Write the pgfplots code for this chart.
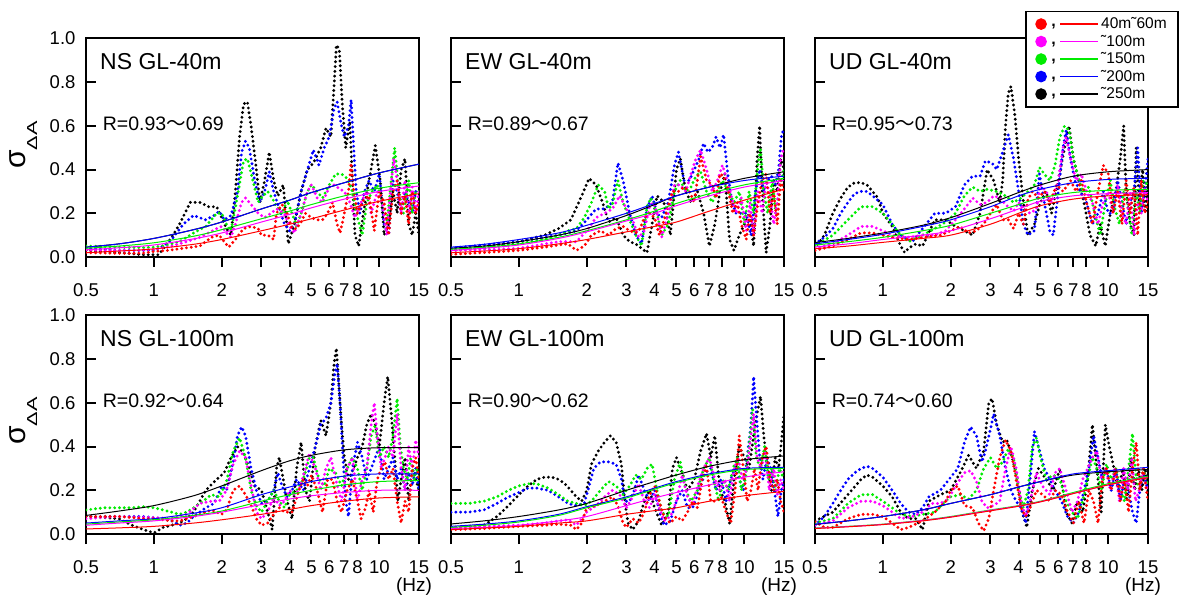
\documentclass[border=0pt]{standalone}
\usepackage{pgfplots}
\pgfplotsset{compat=1.18}
\usepackage{fontspec}
\setmainfont{Liberation Sans}
\newfontfamily\cjk{Noto Sans CJK JP}
\definecolor{cred}{RGB}{255,0,0}
\definecolor{cmag}{RGB}{255,0,255}
\definecolor{cgrn}{RGB}{0,235,0}
\definecolor{cblu}{RGB}{0,0,255}
\definecolor{cblk}{RGB}{0,0,0}
\pgfplotsset{
  dotsty/.style={line width=3.2pt, line cap=round, line join=round, dash pattern=on 0pt off 4.8pt, forget plot},
  fitsty/.style={line width=1pt, smooth, forget plot},
  every tick label/.append style={font=\fontsize{18.5}{18.5}\selectfont},
  every axis/.append style={
    xmode=log, xmin=0.5, xmax=15, ymin=0, ymax=1,
    scale only axis, width=333pt, height=218.5pt, anchor=south west,
    axis line style={line width=2pt},
    xtick={0.5,1,2,3,4,5,6,7,8,10,15},
    xticklabels={0.5,1,2,3,4,5,6,7,8,10,15},
    minor xtick={}, minor ytick={},
    ytick={0,0.2,0.4,0.6,0.8,1},
    xtick align=outside, ytick align=inside,
    xtick pos=left, ytick pos=left,
    major tick length=10pt,
    every tick/.append style={line width=2pt, black},
    xticklabel style={yshift=-13pt, font=\fontsize{18.5}{18.5}\selectfont},
    yticklabel style={xshift=-7pt, font=\fontsize{18.5}{18.5}\selectfont},
    clip=true,
  },
  ylab/.style={yticklabels={0.0,0.2,0.4,0.6,0.8,1.0}},
  noylab/.style={yticklabels={}},
  legimg/.style={legend image code/.code={
    \fill (0pt,0pt) circle (5pt);
    \node[text=black, inner sep=0pt, text height=2pt, text depth=2pt, anchor=base, font=\fontsize{16}{16}\selectfont\bfseries] at (12.5pt,-2.5pt) {,};
    \draw[line width=1.3pt] (19pt,0pt) -- (57pt,0pt);
  }},
}
\newcommand{\ttl}[1]{\node[anchor=base west, inner sep=0pt, font=\fontsize{23}{23}\selectfont] at (rel axis cs:0.042,0.858) {#1};}
\newcommand{\rr}[2]{\node[anchor=base west, inner sep=0pt, font=\fontsize{19.5}{19.5}\selectfont] at (rel axis cs:0.05,0.581) {R=#1{\cjk ～}#2};}
\begin{document}
\begin{tikzpicture}
\path[use as bounding box] (0pt,0pt) rectangle (1185pt,599pt);
% ---------------- NS GL-40m
\begin{axis}[ylab, at={(86pt,342pt)}]
\addplot[cblk,dotsty] coordinates {(0.5,.03)(0.6,.025)(0.7,.02)(0.8,.015)(0.9,.01)(1.05,.01)(1.2,.09)(1.3,.15)(1.45,.25)(1.6,.25)(1.75,.23)(1.9,.23)(2.0,.18)(2.1,.13)(2.2,.1)(2.3,.3)(2.4,.55)(2.5,.7)(2.6,.71)(2.7,.6)(2.85,.4)(2.95,.25)(3.1,.35)(3.25,.48)(3.4,.35)(3.55,.28)(3.75,.33)(3.95,.06)(4.2,.15)(4.5,.3)(4.8,.4)(5.1,.43)(5.5,.5)(5.8,.59)(6.1,.55)(6.3,.78)(6.45,.97)(6.65,.95)(6.85,.7)(7.1,.5)(7.4,.62)(7.6,.35)(7.8,.1)(8.1,.05)(8.5,.2)(9.0,.35)(9.6,.51)(10.1,.35)(10.5,.1)(11,.15)(11.5,.3)(12,.2)(12.5,.4)(13,.45)(13.5,.15)(14,.1)(14.5,.2)(15,.1)};
\addplot[cblu,dotsty] coordinates {(0.5,.04)(0.6,.035)(0.7,.03)(0.8,.03)(0.9,.03)(1.0,.03)(1.1,.05)(1.2,.08)(1.35,.15)(1.5,.19)(1.7,.17)(1.85,.19)(1.95,.21)(2.05,.17)(2.2,.19)(2.35,.3)(2.45,.48)(2.55,.53)(2.65,.5)(2.8,.35)(2.95,.25)(3.1,.3)(3.25,.39)(3.4,.3)(3.6,.22)(3.8,.15)(4.0,.12)(4.2,.15)(4.5,.3)(4.8,.4)(5.1,.49)(5.4,.42)(5.7,.5)(6.0,.55)(6.3,.68)(6.5,.71)(6.8,.6)(7.0,.55)(7.3,.6)(7.5,.72)(7.7,.5)(7.9,.3)(8.2,.2)(8.6,.3)(9.0,.35)(9.5,.3)(10,.38)(10.5,.15)(11,.1)(11.5,.35)(12,.3)(12.5,.2)(13,.3)(13.5,.25)(14,.2)(14.5,.3)(15,.3)};
\addplot[cgrn,dotsty] coordinates {(0.5,.05)(0.6,.048)(0.7,.045)(0.8,.043)(0.9,.043)(1.0,.045)(1.15,.055)(1.3,.07)(1.5,.11)(1.7,.14)(1.9,.2)(2.0,.2)(2.1,.15)(2.2,.12)(2.35,.28)(2.5,.44)(2.6,.45)(2.75,.35)(2.9,.25)(3.05,.28)(3.2,.3)(3.35,.27)(3.5,.23)(3.7,.2)(3.9,.26)(4.1,.2)(4.3,.14)(4.5,.2)(4.8,.3)(5.0,.33)(5.3,.3)(5.6,.27)(6.0,.33)(6.4,.38)(6.8,.38)(7.2,.36)(7.6,.3)(8.0,.18)(8.4,.1)(8.8,.25)(9.3,.3)(9.8,.33)(10.3,.25)(10.8,.15)(11.3,.35)(11.7,.5)(12.2,.3)(12.8,.2)(13.5,.35)(14,.2)(14.5,.3)(15,.3)};
\addplot[cmag,dotsty] coordinates {(0.5,.032)(0.6,.03)(0.7,.03)(0.8,.03)(0.9,.032)(1.0,.035)(1.15,.045)(1.3,.06)(1.6,.09)(1.9,.13)(2.0,.14)(2.1,.11)(2.2,.09)(2.3,.15)(2.45,.25)(2.55,.27)(2.7,.24)(2.9,.2)(3.1,.18)(3.3,.2)(3.5,.22)(3.8,.2)(4.0,.14)(4.2,.11)(4.5,.2)(4.8,.3)(5.0,.33)(5.3,.27)(5.6,.25)(6.0,.32)(6.3,.33)(6.7,.31)(7.0,.3)(7.4,.25)(7.8,.18)(8.3,.25)(8.8,.3)(9.2,.2)(9.8,.3)(10.3,.25)(10.8,.1)(11.2,.3)(11.6,.45)(12,.35)(12.5,.2)(13,.35)(13.5,.2)(14,.32)(14.5,.2)(15,.3)};
\addplot[cred,dotsty] coordinates {(0.5,.02)(0.6,.018)(0.7,.017)(0.8,.017)(0.9,.018)(1.0,.025)(1.15,.03)(1.35,.04)(1.6,.05)(1.8,.09)(1.95,.1)(2.05,.07)(2.15,.045)(2.3,.08)(2.5,.13)(2.7,.14)(2.9,.13)(3.0,.1)(3.2,.1)(3.4,.08)(3.5,.2)(3.7,.24)(3.9,.2)(4.1,.13)(4.3,.13)(4.5,.16)(4.7,.2)(5.0,.18)(5.3,.17)(5.6,.17)(5.9,.2)(6.2,.25)(6.5,.15)(6.7,.11)(7.0,.2)(7.3,.3)(7.5,.43)(7.7,.3)(8.0,.2)(8.5,.26)(9.0,.28)(9.5,.12)(10,.3)(10.5,.25)(11,.1)(11.5,.3)(12,.35)(12.5,.2)(13,.28)(13.5,.15)(14,.3)(14.5,.2)(15,.25)};
\addplot[cblk,fitsty] coordinates {(0.5,.045)(0.7,.06)(1,.085)(1.5,.125)(2,.16)(3,.22)(4,.26)(5,.295)(7,.34)(10,.385)(15,.425)};
\addplot[cblu,fitsty] coordinates {(0.5,.045)(0.7,.06)(1,.085)(1.5,.125)(2,.16)(3,.22)(4,.26)(5,.295)(7,.34)(10,.385)(15,.425)};
\addplot[cgrn,fitsty] coordinates {(0.5,.04)(0.7,.05)(1,.065)(1.5,.095)(2,.125)(3,.175)(4,.21)(5,.24)(7,.28)(10,.315)(15,.34)};
\addplot[cmag,fitsty] coordinates {(0.5,.033)(0.7,.042)(1,.055)(1.5,.083)(2,.11)(3,.16)(4,.195)(5,.225)(7,.265)(10,.3)(15,.325)};
\addplot[cred,fitsty] coordinates {(0.5,.02)(0.7,.027)(1,.037)(1.5,.058)(2,.08)(3,.12)(4,.15)(5,.175)(7,.215)(10,.255)(15,.29)};
\ttl{NS GL-40m}
\rr{0.93}{0.69}
\end{axis}
% ---------------- EW GL-40m
\begin{axis}[noylab, at={(451pt,342pt)}]
\addplot[cblk,dotsty] coordinates {(0.5,.03)(0.7,.045)(1.0,.07)(1.3,.1)(1.5,.13)(1.7,.17)(1.9,.28)(2.05,.36)(2.2,.33)(2.35,.25)(2.5,.16)(2.7,.18)(2.9,.1)(3.1,.07)(3.3,.06)(3.5,.04)(3.7,.02)(3.9,.15)(4.1,.28)(4.4,.25)(4.7,.1)(5.0,.4)(5.2,.45)(5.5,.3)(5.8,.25)(6.2,.3)(6.6,.2)(7.0,.05)(7.4,.15)(7.8,.3)(8.2,.38)(8.6,.08)(9.0,.03)(9.5,.1)(10,.15)(10.5,.2)(11,.05)(11.4,.45)(11.7,.6)(12,.3)(12.5,.02)(13,.15)(13.5,.35)(14,.3)(14.5,.45)(15,.4)};
\addplot[cblu,dotsty] coordinates {(0.5,.04)(0.7,.055)(1,.07)(1.5,.1)(1.8,.12)(2.0,.17)(2.2,.22)(2.4,.22)(2.6,.25)(2.75,.43)(2.9,.35)(3.1,.2)(3.3,.1)(3.5,.06)(3.7,.22)(3.9,.28)(4.1,.2)(4.3,.18)(4.6,.25)(4.9,.42)(5.1,.48)(5.4,.35)(5.7,.35)(6.0,.4)(6.3,.45)(6.6,.52)(6.9,.48)(7.2,.5)(7.5,.55)(7.8,.5)(8.1,.56)(8.4,.4)(8.8,.25)(9.2,.2)(9.7,.2)(10.2,.2)(10.7,.1)(11.2,.3)(11.7,.4)(12.2,.3)(12.7,.35)(13.2,.37)(13.7,.33)(14.2,.4)(14.6,.55)(15,.59)};
\addplot[cgrn,dotsty] coordinates {(0.5,.03)(0.7,.04)(1.0,.06)(1.3,.08)(1.5,.1)(1.65,.12)(1.8,.13)(1.95,.18)(2.1,.25)(2.25,.33)(2.4,.3)(2.5,.22)(2.6,.24)(2.75,.35)(2.9,.25)(3.1,.17)(3.3,.1)(3.5,.05)(3.7,.23)(3.85,.27)(4.1,.2)(4.3,.1)(4.6,.15)(4.9,.3)(5.2,.35)(5.5,.3)(5.8,.32)(6.1,.37)(6.4,.39)(6.8,.3)(7.2,.25)(7.6,.3)(8.0,.35)(8.5,.3)(9.0,.25)(9.5,.3)(10,.15)(10.5,.3)(11,.2)(11.5,.42)(11.8,.5)(12.2,.3)(12.7,.2)(13.3,.35)(13.8,.2)(14.3,.3)(15,.4)};
\addplot[cmag,dotsty] coordinates {(0.5,.03)(0.7,.033)(1.0,.04)(1.5,.07)(1.8,.07)(2.0,.12)(2.2,.18)(2.4,.2)(2.6,.22)(2.8,.28)(3.0,.22)(3.2,.17)(3.4,.09)(3.6,.12)(3.8,.23)(3.95,.25)(4.1,.2)(4.3,.09)(4.6,.2)(4.9,.33)(5.2,.33)(5.5,.3)(5.8,.38)(6.1,.45)(6.4,.49)(6.8,.4)(7.2,.3)(7.6,.35)(8.0,.42)(8.4,.35)(8.8,.27)(9.2,.2)(9.7,.27)(10.2,.12)(10.6,.25)(11,.1)(11.5,.3)(12,.2)(12.5,.35)(13,.28)(13.5,.15)(14,.25)(14.5,.45)(15,.5)};
\addplot[cred,dotsty] coordinates {(0.5,.012)(0.7,.02)(1.0,.03)(1.3,.045)(1.5,.055)(1.65,.06)(1.8,.03)(1.95,.05)(2.1,.1)(2.3,.12)(2.5,.1)(2.7,.13)(2.9,.14)(3.1,.12)(3.3,.11)(3.45,.13)(3.6,.18)(3.8,.2)(4.0,.18)(4.2,.1)(4.5,.2)(4.8,.3)(5.1,.3)(5.4,.32)(5.7,.3)(6.0,.25)(6.4,.46)(6.8,.35)(7.2,.33)(7.5,.27)(7.8,.38)(8.1,.37)(8.5,.3)(8.9,.2)(9.3,.25)(9.7,.15)(10.2,.08)(10.6,.2)(11,.1)(11.5,.25)(12,.35)(12.5,.38)(13,.2)(13.5,.3)(14,.15)(14.5,.35)(15,.3)};
\addplot[cblk,fitsty] coordinates {(0.5,.04)(0.7,.05)(1,.07)(1.5,.1)(2,.13)(3,.19)(4,.24)(5,.28)(7,.32)(10,.36)(15,.39)};
\addplot[cblu,fitsty] coordinates {(0.5,.045)(0.7,.058)(1,.08)(1.5,.11)(2,.145)(3,.2)(4,.245)(5,.28)(7,.32)(10,.35)(15,.37)};
\addplot[cgrn,fitsty] coordinates {(0.5,.035)(0.7,.045)(1,.06)(1.5,.09)(2,.12)(3,.17)(4,.21)(5,.245)(7,.29)(10,.33)(15,.36)};
\addplot[cmag,fitsty] coordinates {(0.5,.03)(0.7,.04)(1,.055)(1.5,.085)(2,.115)(3,.165)(4,.2)(5,.235)(7,.28)(10,.32)(15,.35)};
\addplot[cred,fitsty] coordinates {(0.5,.02)(0.7,.027)(1,.038)(1.5,.06)(2,.08)(3,.115)(4,.14)(5,.16)(7,.21)(10,.26)(15,.31)};
\ttl{EW GL-40m}
\rr{0.89}{0.67}
\end{axis}
% ---------------- UD GL-40m
\begin{axis}[noylab, at={(815pt,342pt)},
  legend style={at={(1.0931,1.128)}, anchor=north east, draw=black, line width=1.6pt, fill=white,
    inner xsep=9pt, inner ysep=4pt, row sep=0pt, font=\fontsize{15.5}{15.5}\selectfont,
    nodes={inner sep=2.5pt, text height=11pt, text depth=1.5pt}},
  legend cell align=left]
\addlegendimage{cred,legimg}\addlegendentry{40m˜60m}
\addlegendimage{cmag,legimg}\addlegendentry{˜100m}
\addlegendimage{cgrn,legimg}\addlegendentry{˜150m}
\addlegendimage{cblu,legimg}\addlegendentry{˜200m}
\addlegendimage{cblk,legimg}\addlegendentry{˜250m}
\addplot[cblk,dotsty] coordinates {(0.5,.04)(0.55,.1)(0.6,.2)(0.65,.27)(0.7,.32)(0.75,.34)(0.8,.34)(0.85,.33)(0.9,.3)(0.95,.27)(1.0,.2)(1.1,.14)(1.2,.05)(1.25,.02)(1.3,.04)(1.4,.06)(1.5,.05)(1.7,.17)(1.9,.17)(2.1,.14)(2.3,.12)(2.5,.1)(2.7,.2)(2.9,.4)(3.1,.35)(3.3,.25)(3.4,.35)(3.5,.6)(3.6,.75)(3.7,.78)(3.85,.65)(4.0,.45)(4.2,.25)(4.4,.1)(4.7,.15)(5.0,.25)(5.3,.3)(5.6,.2)(6.0,.35)(6.4,.5)(6.7,.6)(7.0,.45)(7.4,.35)(7.8,.25)(8.3,.1)(8.8,.05)(9.2,.15)(9.7,.05)(10.2,.2)(10.8,.3)(11.3,.45)(11.7,.6)(12,.3)(12.5,.15)(13,.1)(13.3,.5)(13.7,.25)(14.2,.4)(14.6,.2)(15,.35)};
\addplot[cblu,dotsty] coordinates {(0.5,.06)(0.55,.09)(0.6,.13)(0.65,.2)(0.7,.25)(0.75,.29)(0.8,.3)(0.85,.3)(0.9,.28)(1.0,.24)(1.1,.15)(1.2,.1)(1.35,.07)(1.5,.13)(1.7,.2)(1.9,.2)(2.1,.23)(2.3,.33)(2.5,.37)(2.7,.37)(2.85,.44)(3.05,.43)(3.2,.4)(3.4,.48)(3.6,.56)(3.8,.45)(4.0,.3)(4.2,.15)(4.4,.1)(4.7,.12)(4.95,.38)(5.2,.25)(5.5,.12)(5.7,.1)(6.0,.3)(6.3,.5)(6.5,.58)(6.8,.45)(7.1,.35)(7.5,.3)(8.0,.25)(8.5,.15)(9.0,.2)(9.5,.3)(10,.2)(10.5,.2)(11,.35)(11.5,.25)(12,.15)(12.5,.25)(13,.3)(13.5,.5)(14,.2)(14.5,.3)(15,.45)};
\addplot[cgrn,dotsty] coordinates {(0.5,.05)(0.6,.1)(0.7,.17)(0.8,.23)(0.9,.23)(1.0,.2)(1.1,.15)(1.2,.1)(1.3,.07)(1.5,.1)(1.7,.13)(1.9,.16)(2.1,.2)(2.3,.28)(2.5,.32)(2.7,.3)(2.9,.31)(3.2,.3)(3.5,.28)(3.8,.25)(4.1,.27)(4.4,.3)(4.7,.33)(4.95,.41)(5.2,.38)(5.5,.35)(5.8,.42)(6.1,.55)(6.4,.6)(6.7,.58)(7.0,.45)(7.3,.38)(7.7,.3)(8.2,.32)(8.7,.2)(9.2,.1)(9.7,.25)(10.2,.35)(10.7,.22)(11.2,.15)(11.7,.3)(12.2,.25)(12.7,.1)(13.3,.3)(13.8,.2)(14.3,.35)(15,.33)};
\addplot[cmag,dotsty] coordinates {(0.5,.04)(0.6,.06)(0.7,.1)(0.8,.14)(0.9,.14)(1.0,.12)(1.1,.1)(1.3,.09)(1.5,.1)(1.7,.1)(1.9,.12)(2.1,.17)(2.3,.22)(2.5,.27)(2.7,.24)(2.9,.25)(3.1,.28)(3.3,.27)(3.5,.24)(3.8,.21)(4.0,.25)(4.2,.22)(4.5,.2)(4.8,.22)(5.0,.33)(5.3,.3)(5.6,.25)(6.0,.35)(6.3,.5)(6.5,.55)(6.8,.45)(7.2,.35)(7.6,.38)(8.0,.3)(8.5,.25)(9.0,.15)(9.5,.25)(10,.3)(10.5,.2)(11,.33)(11.5,.2)(12,.15)(12.5,.3)(13,.1)(13.5,.25)(14,.2)(14.5,.32)(15,.25)};
\addplot[cred,dotsty] coordinates {(0.5,.03)(0.6,.05)(0.7,.08)(0.8,.11)(0.9,.11)(1.0,.1)(1.1,.09)(1.3,.08)(1.5,.09)(1.8,.1)(2.0,.12)(2.2,.14)(2.4,.11)(2.6,.12)(2.8,.15)(3.0,.2)(3.2,.24)(3.4,.17)(3.6,.17)(3.8,.13)(4.0,.2)(4.2,.15)(4.4,.26)(4.6,.3)(4.9,.27)(5.2,.3)(5.5,.25)(5.9,.33)(6.3,.3)(6.8,.35)(7.2,.3)(7.6,.35)(8.0,.25)(8.5,.15)(9.0,.3)(9.5,.42)(10,.38)(10.5,.2)(11,.3)(11.5,.15)(12,.35)(12.5,.2)(13,.32)(13.5,.1)(14,.35)(14.5,.2)(15,.25)};
\addplot[cblk,fitsty] coordinates {(0.5,.066)(0.7,.085)(1,.11)(1.5,.145)(2,.18)(3,.245)(4,.295)(5,.33)(7,.37)(10,.39)(15,.4)};
\addplot[cblu,fitsty] coordinates {(0.5,.06)(0.7,.08)(1,.104)(1.5,.14)(2,.17)(3,.23)(4,.28)(5,.31)(7,.34)(10,.355)(15,.36)};
\addplot[cgrn,fitsty] coordinates {(0.5,.055)(0.7,.07)(1,.09)(1.5,.12)(2,.145)(3,.2)(4,.24)(5,.27)(7,.295)(10,.305)(15,.31)};
\addplot[cmag,fitsty] coordinates {(0.5,.046)(0.7,.06)(1,.08)(1.5,.1)(2,.12)(3,.175)(4,.22)(5,.255)(7,.28)(10,.29)(15,.295)};
\addplot[cred,fitsty] coordinates {(0.5,.038)(0.7,.05)(1,.067)(1.5,.085)(2,.1)(3,.15)(4,.2)(5,.235)(7,.265)(10,.28)(15,.285)};
\ttl{UD GL-40m}
\rr{0.95}{0.73}
\end{axis}
% ---------------- NS GL-100m
\begin{axis}[ylab, at={(86pt,65pt)}]
\addplot[cblk,dotsty] coordinates {(0.5,.08)(0.6,.075)(0.7,.07)(0.8,.04)(0.9,.02)(1.0,.005)(1.1,.03)(1.2,.04)(1.3,.05)(1.4,.07)(1.5,.1)(1.7,.2)(1.9,.25)(2.05,.28)(2.2,.35)(2.35,.4)(2.5,.37)(2.65,.3)(2.8,.22)(3.0,.2)(3.2,.1)(3.35,.02)(3.5,.3)(3.6,.35)(3.75,.25)(3.9,.15)(4.1,.07)(4.3,.3)(4.5,.42)(4.7,.2)(4.9,.15)(5.2,.4)(5.5,.52)(5.8,.45)(6.1,.6)(6.3,.78)(6.45,.85)(6.6,.7)(6.8,.5)(7.0,.35)(7.3,.25)(7.7,.3)(8.0,.35)(8.4,.4)(8.8,.5)(9.2,.55)(9.6,.5)(10,.4)(10.5,.6)(10.9,.72)(11.3,.55)(11.7,.35)(12.1,.15)(12.5,.25)(13,.35)(13.5,.15)(14,.3)(14.5,.25)(15,.2)};
\addplot[cblu,dotsty] coordinates {(0.5,.08)(0.7,.08)(0.9,.08)(1.0,.075)(1.1,.07)(1.2,.06)(1.3,.04)(1.4,.05)(1.5,.08)(1.7,.12)(1.85,.14)(2.0,.22)(2.1,.2)(2.25,.33)(2.35,.45)(2.45,.49)(2.55,.45)(2.7,.3)(2.85,.2)(3.0,.14)(3.2,.15)(3.4,.2)(3.55,.28)(3.7,.22)(3.9,.17)(4.1,.2)(4.3,.25)(4.6,.2)(4.9,.3)(5.2,.4)(5.5,.5)(5.8,.53)(6.1,.6)(6.35,.73)(6.5,.78)(6.7,.6)(6.9,.35)(7.1,.15)(7.3,.08)(7.6,.3)(8.0,.42)(8.4,.35)(8.8,.25)(9.2,.3)(9.6,.35)(10,.4)(10.5,.25)(11,.3)(11.5,.35)(12,.25)(12.5,.3)(13,.2)(13.5,.28)(14,.22)(14.5,.3)(15,.2)};
\addplot[cgrn,dotsty] coordinates {(0.5,.11)(0.6,.12)(0.7,.12)(0.8,.12)(0.9,.125)(1.0,.12)(1.1,.11)(1.2,.1)(1.3,.09)(1.4,.1)(1.5,.12)(1.7,.16)(1.8,.18)(1.95,.17)(2.1,.24)(2.25,.38)(2.4,.44)(2.55,.35)(2.7,.2)(2.85,.13)(3.0,.1)(3.2,.15)(3.4,.2)(3.6,.15)(3.8,.12)(4.0,.18)(4.3,.2)(4.6,.25)(4.9,.35)(5.1,.35)(5.4,.25)(5.7,.22)(6.0,.3)(6.4,.28)(6.8,.22)(7.2,.3)(7.6,.35)(8.0,.3)(8.4,.2)(8.8,.3)(9.2,.45)(9.6,.5)(10,.35)(10.5,.4)(11,.35)(11.5,.45)(12,.62)(12.4,.4)(12.8,.3)(13.3,.25)(13.8,.35)(14.3,.25)(14.7,.3)(15,.25)};
\addplot[cmag,dotsty] coordinates {(0.5,.07)(0.7,.08)(1.0,.075)(1.2,.07)(1.4,.09)(1.6,.14)(1.8,.15)(1.95,.15)(2.1,.2)(2.25,.32)(2.4,.38)(2.55,.35)(2.7,.22)(2.85,.1)(3.0,.07)(3.2,.1)(3.4,.17)(3.6,.13)(3.8,.15)(4.0,.2)(4.2,.18)(4.4,.2)(4.7,.3)(4.9,.37)(5.2,.3)(5.5,.2)(5.8,.3)(6.1,.35)(6.4,.25)(6.8,.15)(7.2,.3)(7.6,.35)(8.0,.15)(8.4,.25)(8.8,.3)(9.2,.5)(9.5,.6)(9.8,.45)(10.2,.3)(10.6,.35)(11,.4)(11.5,.35)(12,.55)(12.5,.3)(13,.2)(13.5,.4)(14,.3)(14.5,.43)(15,.35)};
\addplot[cred,dotsty] coordinates {(0.5,.08)(0.6,.08)(0.7,.08)(0.8,.075)(0.9,.07)(1.0,.07)(1.1,.065)(1.2,.06)(1.3,.06)(1.4,.07)(1.6,.09)(1.8,.11)(1.9,.1)(2.0,.09)(2.1,.11)(2.25,.2)(2.4,.22)(2.55,.18)(2.7,.13)(2.85,.07)(3.0,.04)(3.2,.05)(3.4,.09)(3.6,.12)(3.8,.1)(4.1,.1)(4.4,.2)(4.6,.25)(4.8,.22)(5.0,.27)(5.3,.2)(5.6,.1)(5.9,.25)(6.2,.25)(6.5,.15)(6.8,.1)(7.2,.2)(7.6,.25)(8.0,.15)(8.3,.07)(8.7,.12)(9.0,.2)(9.4,.1)(9.8,.25)(10.2,.3)(10.6,.33)(11,.25)(11.5,.3)(12,.15)(12.5,.05)(13,.15)(13.5,.1)(14,.3)(14.5,.35)(15,.25)};
\addplot[cblk,fitsty] coordinates {(0.5,.085)(0.7,.105)(1,.13)(1.5,.175)(2,.22)(3,.29)(4,.335)(5,.36)(7,.385)(10,.395)(15,.395)};
\addplot[cblu,fitsty] coordinates {(0.5,.05)(0.7,.06)(1,.07)(1.5,.095)(2,.12)(3,.18)(4,.215)(5,.24)(7,.265)(10,.275)(15,.275)};
\addplot[cgrn,fitsty] coordinates {(0.5,.045)(0.7,.055)(1,.065)(1.5,.085)(2,.105)(3,.15)(4,.18)(5,.2)(7,.225)(10,.24)(15,.245)};
\addplot[cmag,fitsty] coordinates {(0.5,.04)(0.7,.05)(1,.06)(1.5,.08)(2,.1)(3,.135)(4,.16)(5,.175)(7,.19)(10,.2)(15,.2)};
\addplot[cred,fitsty] coordinates {(0.5,.023)(0.7,.028)(1,.035)(1.5,.05)(2,.065)(3,.09)(4,.112)(5,.13)(7,.15)(10,.165)(15,.17)};
\ttl{NS GL-100m}
\rr{0.92}{0.64}
\end{axis}
% ---------------- EW GL-100m
\begin{axis}[noylab, at={(451pt,65pt)}]
\addplot[cblk,dotsty] coordinates {(0.5,.03)(0.6,.035)(0.7,.04)(0.8,.08)(0.9,.13)(1.0,.18)(1.1,.22)(1.2,.25)(1.3,.26)(1.4,.26)(1.5,.25)(1.6,.23)(1.7,.2)(1.8,.17)(1.9,.15)(2.0,.2)(2.1,.32)(2.25,.38)(2.4,.42)(2.55,.45)(2.7,.42)(2.85,.32)(2.95,.15)(3.05,.05)(3.2,.02)(3.4,.06)(3.6,.15)(3.8,.2)(4.0,.12)(4.3,.04)(4.6,.1)(4.8,.3)(5.0,.35)(5.3,.28)(5.6,.2)(6.0,.25)(6.4,.38)(6.8,.46)(7.1,.35)(7.4,.45)(7.8,.2)(8.2,.15)(8.6,.05)(9.0,.25)(9.5,.4)(10,.35)(10.5,.3)(11,.45)(11.4,.55)(11.8,.63)(12.2,.45)(12.7,.3)(13.2,.2)(13.7,.35)(14.2,.3)(14.7,.45)(15,.55)};
\addplot[cblu,dotsty] coordinates {(0.5,.1)(0.6,.1)(0.7,.11)(0.8,.14)(0.9,.17)(1.0,.19)(1.1,.21)(1.2,.21)(1.35,.2)(1.5,.17)(1.65,.14)(1.8,.13)(1.95,.14)(2.05,.22)(2.15,.3)(2.3,.33)(2.5,.33)(2.7,.32)(2.85,.25)(2.95,.15)(3.1,.15)(3.25,.2)(3.4,.27)(3.6,.2)(3.8,.15)(4.0,.2)(4.2,.1)(4.4,.04)(4.7,.06)(5.0,.15)(5.3,.2)(5.6,.12)(5.9,.12)(6.3,.2)(6.7,.28)(7.1,.3)(7.5,.2)(7.9,.25)(8.3,.15)(8.7,.25)(9.1,.3)(9.5,.25)(9.9,.2)(10.3,.35)(10.7,.5)(11.0,.72)(11.3,.55)(11.7,.35)(12.1,.25)(12.6,.35)(13.1,.3)(13.6,.2)(14.1,.08)(14.6,.2)(15,.25)};
\addplot[cgrn,dotsty] coordinates {(0.5,.14)(0.6,.14)(0.7,.15)(0.8,.17)(0.9,.2)(1.0,.22)(1.1,.23)(1.2,.23)(1.35,.21)(1.5,.18)(1.65,.15)(1.8,.14)(1.95,.13)(2.1,.15)(2.3,.2)(2.5,.24)(2.7,.22)(2.9,.18)(3.1,.22)(3.3,.27)(3.5,.25)(3.7,.3)(3.9,.32)(4.1,.2)(4.3,.1)(4.6,.08)(4.9,.25)(5.2,.33)(5.5,.2)(5.8,.15)(6.2,.2)(6.6,.3)(7.0,.35)(7.3,.25)(7.7,.15)(8.1,.25)(8.5,.2)(8.9,.3)(9.3,.35)(9.7,.2)(10.1,.25)(10.5,.4)(10.9,.57)(11.3,.35)(11.8,.3)(12.3,.4)(12.8,.25)(13.3,.3)(13.8,.2)(14.3,.3)(15,.25)};
\addplot[cmag,dotsty] coordinates {(0.5,.03)(0.7,.035)(1.0,.04)(1.3,.05)(1.5,.06)(1.65,.065)(1.8,.04)(1.9,.07)(2.0,.1)(2.2,.13)(2.4,.17)(2.6,.2)(2.8,.18)(3.0,.12)(3.2,.17)(3.4,.23)(3.6,.15)(3.8,.12)(4.0,.18)(4.2,.12)(4.4,.06)(4.7,.08)(5.0,.15)(5.3,.27)(5.6,.17)(5.9,.13)(6.2,.22)(6.6,.3)(7.0,.35)(7.4,.25)(7.8,.2)(8.2,.25)(8.6,.15)(9.0,.3)(9.4,.35)(9.8,.25)(10.3,.3)(10.7,.45)(11.0,.55)(11.4,.35)(11.9,.3)(12.4,.38)(12.9,.2)(13.5,.3)(14,.18)(14.5,.25)(15,.2)};
\addplot[cred,dotsty] coordinates {(0.5,.02)(0.7,.025)(1.0,.035)(1.3,.04)(1.5,.045)(1.7,.04)(1.8,.02)(1.9,.05)(2.0,.12)(2.2,.13)(2.4,.15)(2.6,.17)(2.75,.13)(2.9,.05)(3.0,.03)(3.2,.07)(3.4,.05)(3.6,.1)(3.8,.18)(4.0,.22)(4.2,.15)(4.4,.08)(4.7,.05)(5.0,.08)(5.3,.06)(5.6,.1)(5.9,.15)(6.2,.12)(6.5,.25)(6.8,.31)(7.1,.15)(7.5,.15)(7.9,.17)(8.3,.1)(8.7,.05)(9.1,.2)(9.5,.45)(9.9,.3)(10.3,.15)(10.7,.2)(11.1,.3)(11.5,.2)(12,.35)(12.5,.4)(13,.25)(13.5,.2)(14,.25)(14.5,.15)(15,.1)};
\addplot[cblk,fitsty] coordinates {(0.5,.046)(0.7,.06)(1,.08)(1.5,.11)(2,.14)(3,.2)(4,.24)(5,.27)(7,.31)(10,.34)(15,.357)};
\addplot[cblu,fitsty] coordinates {(0.5,.035)(0.7,.045)(1,.06)(1.5,.09)(2,.125)(3,.17)(4,.21)(5,.24)(7,.275)(10,.3)(15,.305)};
\addplot[cgrn,fitsty] coordinates {(0.5,.03)(0.7,.04)(1,.055)(1.5,.085)(2,.12)(3,.165)(4,.205)(5,.235)(7,.27)(10,.295)(15,.3)};
\addplot[cmag,fitsty] coordinates {(0.5,.025)(0.7,.03)(1,.04)(1.5,.06)(2,.08)(3,.13)(4,.165)(5,.19)(7,.225)(10,.26)(15,.285)};
\addplot[cred,fitsty] coordinates {(0.5,.02)(0.7,.027)(1,.035)(1.5,.05)(2,.06)(3,.09)(4,.107)(5,.12)(7,.15)(10,.175)(15,.195)};
\ttl{EW GL-100m}
\rr{0.90}{0.62}
\end{axis}
% ---------------- UD GL-100m
\begin{axis}[noylab, at={(815pt,65pt)}]
\addplot[cblk,dotsty] coordinates {(0.5,.06)(0.6,.1)(0.7,.18)(0.8,.25)(0.85,.27)(0.9,.26)(1.0,.22)(1.1,.17)(1.2,.1)(1.3,.07)(1.4,.07)(1.5,.02)(1.6,.15)(1.8,.18)(2.0,.2)(2.2,.28)(2.4,.36)(2.6,.3)(2.8,.38)(2.95,.6)(3.05,.62)(3.2,.5)(3.4,.42)(3.55,.43)(3.75,.35)(3.95,.25)(4.15,.1)(4.35,.03)(4.6,.2)(4.9,.3)(5.3,.25)(5.7,.2)(6.1,.3)(6.5,.1)(6.9,.05)(7.3,.15)(7.7,.1)(8.1,.25)(8.5,.5)(8.9,.3)(9.3,.1)(9.7,.5)(10.1,.4)(10.6,.3)(11.1,.2)(11.6,.3)(12.1,.15)(12.6,.35)(13.1,.2)(13.6,.3)(14.1,.2)(14.6,.3)(15,.2)};
\addplot[cblu,dotsty] coordinates {(0.5,.04)(0.55,.08)(0.6,.14)(0.65,.2)(0.7,.25)(0.75,.28)(0.8,.3)(0.85,.31)(0.9,.3)(1.0,.26)(1.1,.2)(1.2,.14)(1.3,.1)(1.4,.09)(1.5,.12)(1.6,.17)(1.8,.2)(2.0,.26)(2.15,.3)(2.3,.42)(2.45,.49)(2.6,.45)(2.75,.33)(2.85,.38)(3.0,.48)(3.1,.55)(3.3,.45)(3.5,.3)(3.7,.2)(3.9,.15)(4.1,.12)(4.3,.05)(4.5,.25)(4.7,.47)(4.9,.4)(5.2,.3)(5.5,.25)(5.8,.2)(6.2,.15)(6.6,.08)(7.0,.05)(7.4,.1)(7.8,.2)(8.2,.3)(8.6,.45)(9.0,.35)(9.4,.25)(9.8,.3)(10.3,.2)(10.8,.3)(11.3,.15)(11.8,.25)(12.3,.2)(12.8,.1)(13.3,.05)(13.8,.2)(14.3,.28)(15,.2)};
\addplot[cgrn,dotsty] coordinates {(0.5,.05)(0.6,.07)(0.7,.14)(0.8,.18)(0.9,.18)(1.0,.15)(1.1,.12)(1.2,.09)(1.35,.08)(1.5,.09)(1.7,.1)(1.85,.14)(2.0,.17)(2.2,.18)(2.4,.16)(2.6,.2)(2.8,.3)(3.0,.35)(3.2,.3)(3.4,.33)(3.6,.39)(3.8,.35)(4.0,.2)(4.2,.12)(4.4,.2)(4.6,.4)(4.8,.44)(5.0,.35)(5.3,.25)(5.7,.27)(6.1,.25)(6.5,.15)(6.9,.1)(7.3,.07)(7.7,.15)(8.1,.25)(8.5,.35)(8.9,.3)(9.3,.2)(9.8,.32)(10.3,.25)(10.8,.3)(11.3,.2)(11.8,.15)(12.3,.3)(12.8,.46)(13.3,.25)(13.8,.2)(14.3,.3)(15,.22)};
\addplot[cmag,dotsty] coordinates {(0.5,.04)(0.6,.06)(0.7,.12)(0.8,.15)(0.9,.15)(1.0,.13)(1.1,.1)(1.2,.07)(1.35,.08)(1.5,.1)(1.65,.14)(1.8,.14)(1.95,.16)(2.1,.22)(2.3,.28)(2.45,.29)(2.6,.24)(2.75,.15)(2.9,.12)(3.1,.13)(3.3,.15)(3.5,.3)(3.7,.4)(3.9,.3)(4.1,.15)(4.3,.08)(4.5,.15)(4.8,.28)(5.1,.22)(5.5,.18)(5.8,.28)(6.1,.3)(6.5,.2)(6.9,.1)(7.3,.15)(7.7,.25)(8.1,.3)(8.5,.35)(8.9,.38)(9.3,.25)(9.7,.3)(10.2,.2)(10.7,.3)(11.2,.15)(11.7,.3)(12.2,.2)(12.7,.35)(13.2,.15)(13.7,.2)(14.2,.28)(15,.2)};
\addplot[cred,dotsty] coordinates {(0.5,.056)(0.55,.03)(0.6,.03)(0.7,.07)(0.8,.09)(0.9,.09)(1.0,.08)(1.1,.05)(1.2,.02)(1.3,.03)(1.5,.06)(1.7,.1)(1.9,.15)(2.0,.2)(2.15,.22)(2.3,.13)(2.5,.12)(2.65,.05)(2.8,.015)(2.95,.07)(3.1,.2)(3.3,.35)(3.5,.43)(3.7,.38)(3.9,.25)(4.1,.12)(4.3,.08)(4.5,.12)(4.8,.2)(5.1,.18)(5.5,.15)(5.8,.2)(6.2,.18)(6.6,.1)(7.0,.05)(7.4,.15)(7.8,.05)(8.2,.2)(8.6,.15)(9.0,.05)(9.4,.25)(9.8,.3)(10.3,.2)(10.8,.3)(11.3,.15)(11.8,.25)(12.3,.1)(12.8,.3)(13.3,.42)(13.8,.2)(14.3,.3)(15,.15)};
\addplot[cblk,fitsty] coordinates {(0.5,.044)(0.7,.06)(1,.08)(1.5,.11)(2,.14)(3,.18)(4,.215)(5,.24)(7,.27)(10,.285)(15,.295)};
\addplot[cblu,fitsty] coordinates {(0.5,.045)(0.7,.06)(1,.08)(1.5,.11)(2,.14)(3,.18)(4,.215)(5,.24)(7,.275)(10,.29)(15,.305)};
\addplot[cgrn,fitsty] coordinates {(0.5,.027)(0.7,.035)(1,.045)(1.5,.063)(2,.08)(3,.11)(4,.13)(5,.15)(7,.19)(10,.23)(15,.265)};
\addplot[cmag,fitsty] coordinates {(0.5,.026)(0.7,.034)(1,.044)(1.5,.062)(2,.078)(3,.108)(4,.128)(5,.148)(7,.186)(10,.225)(15,.26)};
\addplot[cred,fitsty] coordinates {(0.5,.025)(0.7,.033)(1,.043)(1.5,.06)(2,.077)(3,.106)(4,.127)(5,.147)(7,.185)(10,.225)(15,.258)};
\ttl{UD GL-100m}
\rr{0.74}{0.60}
\end{axis}
% ---------------- labels
\node[rotate=90, anchor=base, inner sep=0pt] at (25pt,454pt) {{\fontsize{30}{30}\selectfont σ}\raisebox{-12pt}{\scalebox{1.5}[1]{\fontsize{14.5}{14.5}\selectfont ΔA}}};
\node[rotate=90, anchor=base, inner sep=0pt] at (25pt,178pt) {{\fontsize{30}{30}\selectfont σ}\raisebox{-12pt}{\scalebox{1.5}[1]{\fontsize{14.5}{14.5}\selectfont ΔA}}};
\foreach \xx in {414,779,1143} {\node[font=\fontsize{19}{19}\selectfont, inner sep=0pt] at (\xx pt,12pt) {(Hz)};}
\end{tikzpicture}
\end{document}
